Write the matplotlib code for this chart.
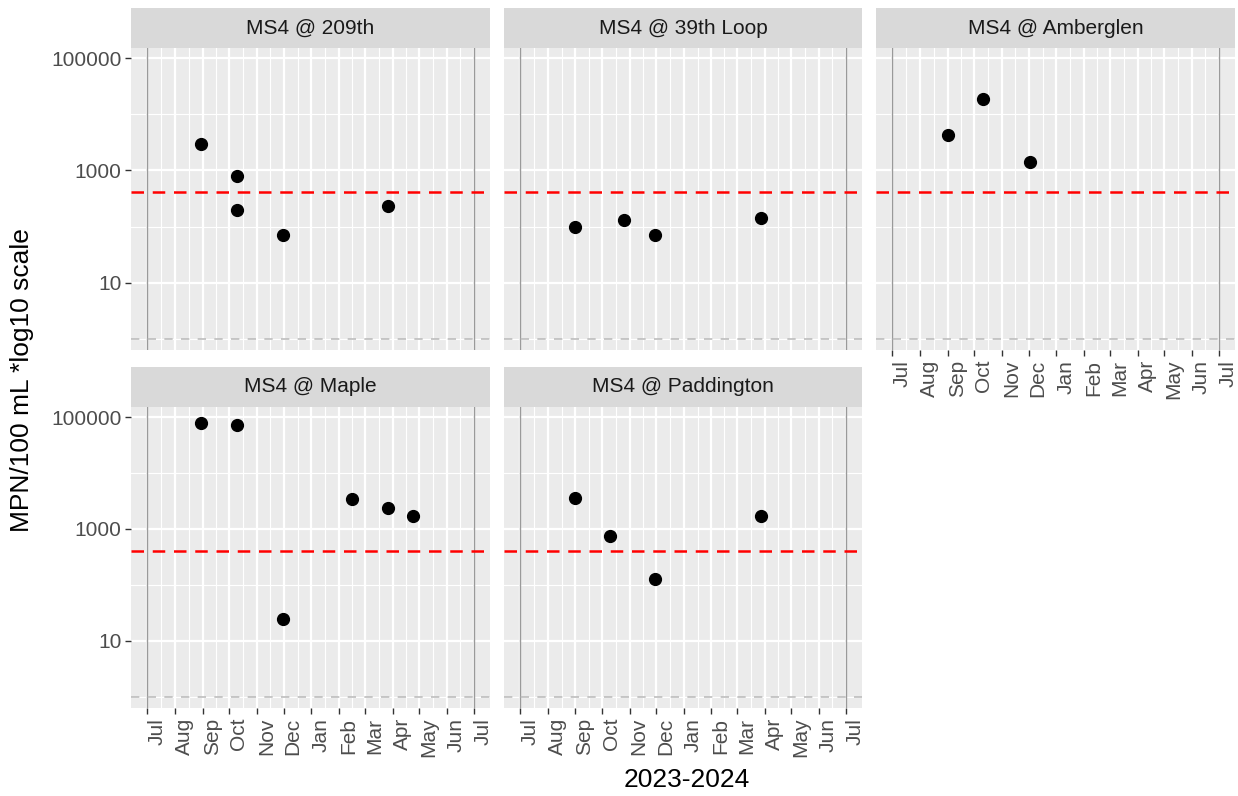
import pandas as pd
import numpy as np
import matplotlib
matplotlib.use("Agg")
import matplotlib.pyplot as plt
import matplotlib.dates as mdates

plt.rcParams["font.family"] = ["Liberation Sans", "DejaVu Sans"]

# data (MPN/100 mL)
sites = ["MS4 @ 209th", "MS4 @ 39th Loop", "MS4 @ Amberglen", "MS4 @ Maple", "MS4 @ Paddington"]

dates_209th = ["2023-08-30", "2023-10-10", "2023-10-10", "2023-11-30", "2024-03-27"]
vals_209th = [3000, 780, 195, 70, 230]

dates_39th = ["2023-09-01", "2023-10-26", "2023-11-30", "2024-03-28"]
vals_39th = [100, 130, 72, 140]

dates_amber = ["2023-09-01", "2023-10-11", "2023-12-02"]
vals_amber = [4300, 18700, 1400]

dates_maple = ["2023-08-30", "2023-10-10", "2023-11-30", "2024-02-15", "2024-03-27", "2024-04-24"]
vals_maple = [78000, 72000, 25, 3400, 2400, 1700]

dates_padd = ["2023-09-01", "2023-10-10", "2023-11-30", "2024-03-28"]
vals_padd = [3600, 750, 126, 1700]

site_dates = [dates_209th, dates_39th, dates_amber, dates_maple, dates_padd]
site_vals = [vals_209th, vals_39th, vals_amber, vals_maple, vals_padd]

threshold = 406      # red dashed
detect_limit = 1     # grey dashed
fy_start = "2023-07-01"
fy_end = "2024-07-01"

y_breaks = [10, 1000, 100000]
y_minor = [1, 100, 10000]

W, H = 1238, 796
fig = plt.figure(figsize=(W / 100, H / 100), dpi=100)

# panel boxes in pixels: (left, right, top, bottom)
cols = [(131, 490), (504, 862), (876, 1235)]
rows = [(48, 350), (407, 708)]
strip_h = 40

t0 = pd.Timestamp(fy_start)
t1 = pd.Timestamp(fy_end)
pad = (t1 - t0) * 0.05
xlim = (mdates.date2num(t0 - pad), mdates.date2num(t1 + pad))

month_ticks = pd.date_range(t0, t1, freq="MS")
mt = mdates.date2num(month_ticks)
month_minor = (mt[:-1] + mt[1:]) / 2

panel_bg = "#EBEBEB"
txt_col = "#4D4D4D"

for i, site in enumerate(sites):
    r, c = divmod(i, 3)
    left, right = cols[c]
    top, bottom = rows[r]
    ax = fig.add_axes([left / W, 1 - bottom / H, (right - left) / W, (bottom - top) / H])
    ax.set_facecolor(panel_bg)
    for s in ax.spines.values():
        s.set_visible(False)

    ax.set_yscale("log")
    ax.set_ylim(10 ** -0.2, 10 ** 5.18)
    ax.set_xlim(xlim)

    # grid
    for y in y_minor:
        ax.axhline(y, color="white", lw=0.8, zorder=0)
    for y in y_breaks:
        ax.axhline(y, color="white", lw=1.6, zorder=0)
    for x in month_minor:
        ax.axvline(x, color="white", lw=0.8, zorder=0)
    for x in mt:
        ax.axvline(x, color="white", lw=1.6, zorder=0)

    # reference lines
    ax.axvline(mdates.date2num(t0), color="#9A9A9A", lw=1.0, zorder=1)
    ax.axvline(mdates.date2num(t1), color="#9A9A9A", lw=1.0, zorder=1)
    ax.axhline(detect_limit, color="#BDBDBD", lw=1.2, ls=(0, (5, 5)), zorder=1)
    ax.axhline(threshold, color="red", lw=1.8, ls=(0, (5, 3.5)), zorder=2)

    d = mdates.date2num(pd.to_datetime(site_dates[i]))
    ax.plot(d, site_vals[i], "o", color="black", markersize=8.5, zorder=3)

    ax.set_yticks(y_breaks)
    ax.set_yticks([], minor=True)
    ax.set_xticks(mt)
    ax.set_xticks([], minor=True)
    ax.tick_params(axis="both", length=4, width=1.0, color="#333333",
                   labelcolor=txt_col, labelsize=15, pad=3)

    if c == 0:
        ax.set_yticklabels([str(v) for v in y_breaks])
    else:
        ax.tick_params(axis="y", left=False, labelleft=False)

    if r == 1 or c == 2:
        ax.set_xticklabels([m.strftime("%b") for m in month_ticks], rotation=90,
                           ha="left", va="top")
    else:
        ax.tick_params(axis="x", bottom=False, labelbottom=False)

    # facet strip
    sax = fig.add_axes([left / W, 1 - top / H, (right - left) / W, strip_h / H])
    sax.set_facecolor("#D9D9D9")
    sax.set_xticks([])
    sax.set_yticks([])
    for s in sax.spines.values():
        s.set_visible(False)
    sax.text(0.5, 0.5, site, ha="center", va="center", fontsize=15,
             color="#1A1A1A", transform=sax.transAxes)

fig.text(22 / W, 1 - 380 / H, "MPN/100 mL *log10 scale", rotation=90,
         ha="center", va="center", fontsize=19, color="black")
fig.text(687 / W, 1 - 780 / H, "2023-2024", ha="center", va="center",
         fontsize=19, color="black")

fig.savefig("out.png", dpi=100, facecolor="white")
